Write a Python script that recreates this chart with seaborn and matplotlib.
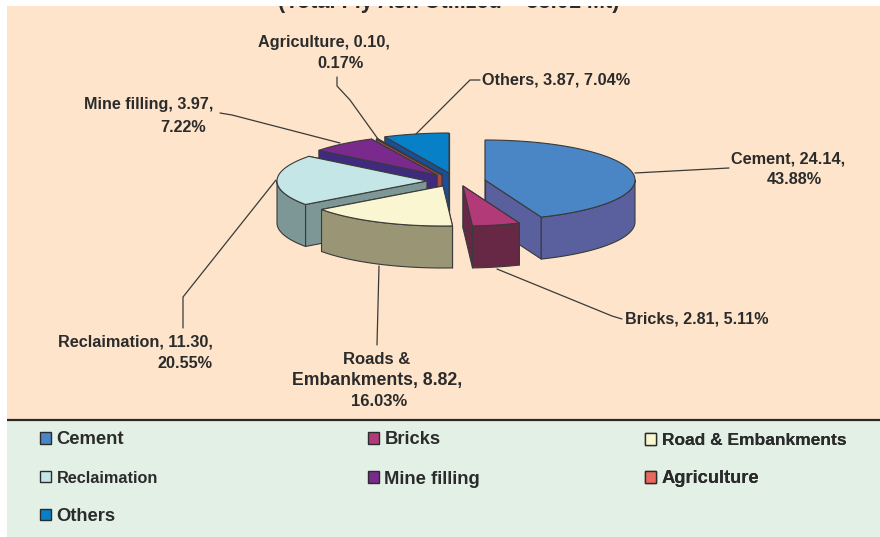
import numpy as np
import matplotlib
matplotlib.use("Agg")
import matplotlib.pyplot as plt
from matplotlib.patches import Polygon, Rectangle, Patch
import seaborn as sns

# ---- data ----
legend_names = ["Cement", "Bricks", "Road & Embankments", "Reclaimation",
                "Mine filling", "Agriculture", "Others"]
values = [24.14, 2.81, 8.82, 11.30, 3.97, 0.10, 3.87]
percents = [43.88, 5.11, 16.03, 20.55, 7.22, 0.17, 7.04]
title_text = "(Total Fly Ash Utilized = 55.01 Mt)"

# ---- styles ----
top_colors = ["#4A86C5", "#B23A78", "#FBF6D2", "#C5E6E6", "#7A2A8C", "#E9695F", "#0880C8"]
side_colors = ["#5A5F9E", "#662844", "#9A9675", "#7D9696", "#3F2A80", "#A84A45", "#1A4E96"]
PEACH, GREEN, INK, EDGE = "#FDE4CB", "#E3F0E6", "#2B2B2B", "#3A3A3A"

# pie projection (pixels), and how far each slice is pulled out of the pie
centre = (447, 175)
rim_a, rim_b, depth = 150, 40, 42
pull_x = [38, 16, -4, -20, -10, -5, 2]
pull_y = [5, 11, 11, 6, 0, 0, -2]
paint_order = [6, 5, 4, 3, 2, 0, 1]

sns.set_theme(style="white")
plt.rcParams["font.family"] = ["Liberation Sans", "DejaVu Sans"]
plt.rcParams["font.weight"] = "bold"
palette = sns.color_palette(top_colors)

fig = plt.figure(figsize=(8.8, 5.37), dpi=100, facecolor="white")
ax = fig.add_axes([0, 0, 1, 1])
ax.set_xlim(0, 880)
ax.set_ylim(537, 0)
ax.axis("off")

# panels
peach = Rectangle((7, 6), 873, 414, fc=PEACH, ec="none", zorder=0)
ax.add_patch(peach)
ax.add_patch(Rectangle((7, 420), 873, 117, fc=GREEN, ec="none", zorder=0))
ax.plot([7, 880], [420, 420], color="#2A2A2A", lw=1.6, zorder=1, solid_capstyle="butt")

t = ax.text(449, 8, title_text, fontsize=15.6, ha="center", va="baseline", color=INK, zorder=1)
t.set_clip_path(peach)
t.set_clip_on(True)

# ---- 3-D pie, angles come from the percentages ----
bounds = 360 * np.concatenate([[0], np.cumsum(percents)]) / np.sum(percents)


def rim(cx, cy, a0, a1, drop=0.0):
    n = max(2, int(abs(a1 - a0)) + 2)
    th = np.radians(np.linspace(a0, a1, n))
    return np.column_stack([cx + rim_a * np.sin(th), cy - rim_b * np.cos(th) + drop])


z = 2
for i in paint_order:
    a0, a1 = bounds[i], bounds[i + 1]
    cx, cy = centre[0] + pull_x[i], centre[1] + pull_y[i]
    apex = np.array([[cx, cy]])
    style = dict(fc=side_colors[i], ec=EDGE, lw=0.8, joinstyle="round")
    for ang in (a1, a0):  # cut faces
        p = rim(cx, cy, ang, ang)[:1]
        quad = np.vstack([apex, p, p + [0, depth], apex + [0, depth]])
        ax.add_patch(Polygon(quad, closed=True, zorder=z, **style))
        z += 1
    lo, hi = max(a0, 90), min(a1, 270)
    if hi > lo:  # outer wall, front-facing part only
        wall = np.vstack([rim(cx, cy, lo, hi), rim(cx, cy, hi, lo, depth)])
        ax.add_patch(Polygon(wall, closed=True, zorder=z, **style))
        z += 1
    top = np.vstack([apex, rim(cx, cy, a0, a1)])
    ax.add_patch(Polygon(top, closed=True, fc=palette[i], ec=EDGE, lw=0.8, zorder=z))
    z += 1

# ---- leader lines ----
leaders = [
    [(635, 173), (729, 168)],
    [(497, 269), (612, 316), (622, 319)],
    [(379, 266), (377, 345)],
    [(276, 180), (183, 297), (183, 328)],
    [(340, 143), (232, 115), (220, 113)],
    [(378, 139), (350, 100), (337, 86), (337, 77)],
    [(416, 134), (470, 80), (480, 80)],
]
for pts in leaders:
    xs, ys = zip(*pts)
    ax.plot(xs, ys, color=EDGE, lw=0.9, zorder=z, solid_joinstyle="round")
z += 1

# ---- data labels ----
label_lines = [
    (f"Cement, {values[0]:.2f},", 788, 159, "center", 11.7),
    (f"{percents[0]:.2f}%", 794, 180, "center", 11.7),
    (f"Bricks, {values[1]:.2f}, {percents[1]:.2f}%", 625, 319, "left", 11.6),
    ("Roads &", 377, 359, "center", 12.0),
    (f"Embankments, {values[2]:.2f},", 377, 381, "center", 12.7),
    (f"{percents[2]:.2f}%", 379, 402, "center", 12.0),
    (f"Reclaimation, {values[3]:.2f},", 213, 342, "right", 11.7),
    (f"{percents[3]:.2f}%", 213, 364, "right", 11.7),
    (f"Mine filling, {values[4]:.2f},", 213, 104, "right", 11.6),
    (f"{percents[4]:.2f}%", 183, 127, "center", 11.6),
    (f"Agriculture, {values[5]:.2f},", 324, 43, "center", 11.7),
    (f"{percents[5]:.2f}%", 340, 64, "center", 11.7),
    (f"Others, {values[6]:.2f}, {percents[6]:.2f}%", 482, 80, "left", 11.7),
]
for s, x, y, ha, size in label_lines:
    ax.text(x, y, s, fontsize=size, color=INK, ha=ha, va="center", zorder=z)

# ---- legend: three hand-placed columns of a real legend ----
columns = [([0, 3, 6], 40, 431.5), ([1, 4], 368, 431.5), ([2, 5], 645, 433)]
legend_sizes = {0: 13.2, 1: 13.2, 2: 12.5, 3: 11.7, 4: 13.2, 5: 13.2, 6: 13.2}
for idx, x, y in columns:
    handles = [Patch(fc=palette[i], ec=INK, lw=1.0, label=legend_names[i]) for i in idx]
    leg = ax.legend(handles=handles, loc="upper left", bbox_to_anchor=(x, y),
                    bbox_transform=ax.transData, frameon=False, prop={"size": 13.2, "weight": "bold"},
                    handlelength=0.6, handleheight=0.6, handletextpad=0.3,
                    labelspacing=1.2, borderpad=0, borderaxespad=0, labelcolor=INK)
    leg.set_zorder(z)
    for txt, i in zip(leg.get_texts(), idx):
        txt.set_fontsize(legend_sizes[i])
    ax.add_artist(leg)

fig.savefig("out.png", dpi=100, facecolor="white")
